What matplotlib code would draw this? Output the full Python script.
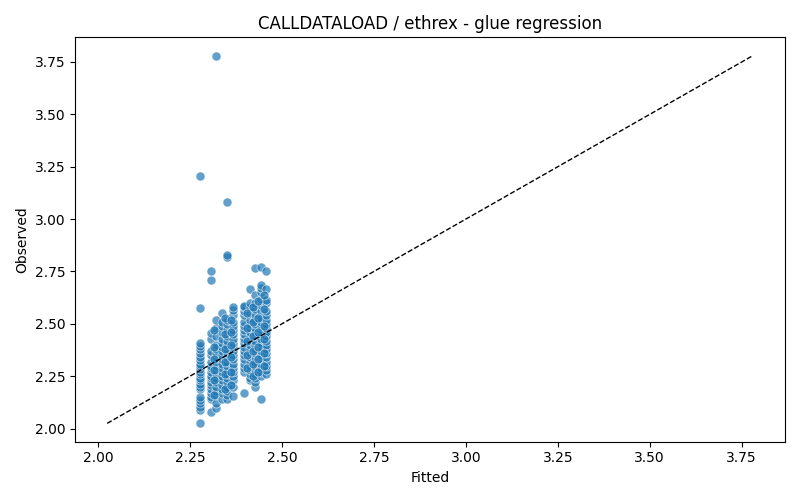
import matplotlib
matplotlib.use("Agg")
import matplotlib.pyplot as plt
import numpy as np

# fitted value levels (the model only produces a handful of distinct predictions)
fitted_levels = [2.278, 2.308, 2.321, 2.338, 2.351, 2.368, 2.398, 2.414, 2.428, 2.444, 2.457,
                 2.315, 2.345, 2.361, 2.406, 2.421, 2.436, 2.451]

# observed values at each fitted level
obs_2278 = [2.025, 2.09, 2.105, 2.12, 2.135, 2.15, 2.19, 2.20, 2.215, 2.23, 2.24, 2.26,
            2.27, 2.285, 2.30, 2.31, 2.325, 2.34, 2.36, 2.38, 2.395, 2.41, 2.575, 3.205]
obs_2308 = [2.08, 2.14, 2.15, 2.17, 2.19, 2.21, 2.22, 2.24, 2.25, 2.27, 2.29, 2.30,
            2.32, 2.35, 2.37, 2.43, 2.455, 2.71, 2.75]
obs_2321 = [2.10, 2.12, 2.16, 2.18, 2.20, 2.22, 2.24, 2.26, 2.28, 2.30, 2.32, 2.34,
            2.36, 2.38, 2.40, 2.44, 2.48, 2.52, 3.78]
obs_2338 = [2.14, 2.17, 2.19, 2.21, 2.23, 2.25, 2.27, 2.29, 2.31, 2.33, 2.35, 2.37,
            2.39, 2.41, 2.43, 2.46, 2.49, 2.51, 2.55]
obs_2351 = [2.14, 2.16, 2.18, 2.20, 2.22, 2.24, 2.26, 2.28, 2.30, 2.32, 2.34, 2.36,
            2.38, 2.40, 2.42, 2.44, 2.47, 2.50, 2.52, 2.82, 2.83, 3.08]
obs_2368 = [2.155, 2.20, 2.23, 2.25, 2.27, 2.29, 2.31, 2.33, 2.35, 2.37, 2.39, 2.41,
            2.43, 2.45, 2.47, 2.49, 2.51, 2.54, 2.565, 2.58]
obs_2398 = [2.17, 2.27, 2.29, 2.31, 2.33, 2.35, 2.37, 2.39, 2.41, 2.43, 2.45, 2.47,
            2.49, 2.51, 2.54, 2.56, 2.58, 2.585]
obs_2414 = [2.23, 2.24, 2.26, 2.28, 2.30, 2.32, 2.34, 2.36, 2.38, 2.40, 2.42, 2.44,
            2.46, 2.48, 2.50, 2.52, 2.55, 2.58, 2.60, 2.665]
obs_2428 = [2.20, 2.22, 2.24, 2.26, 2.28, 2.30, 2.32, 2.34, 2.36, 2.38, 2.40, 2.42,
            2.44, 2.46, 2.48, 2.50, 2.52, 2.54, 2.57, 2.60, 2.64, 2.765]
obs_2444 = [2.14, 2.25, 2.27, 2.29, 2.31, 2.33, 2.35, 2.37, 2.39, 2.41, 2.43, 2.45,
            2.47, 2.49, 2.51, 2.53, 2.56, 2.59, 2.62, 2.65, 2.67, 2.685, 2.77]
obs_2457 = [2.26, 2.28, 2.30, 2.32, 2.34, 2.36, 2.38, 2.40, 2.42, 2.44, 2.46, 2.48,
            2.50, 2.52, 2.54, 2.56, 2.60, 2.615, 2.665, 2.75]
# sparser in-between levels
obs_2315 = [2.16, 2.23, 2.28, 2.33, 2.39, 2.47]
obs_2345 = [2.19, 2.26, 2.32, 2.38, 2.45, 2.53]
obs_2361 = [2.21, 2.27, 2.34, 2.40, 2.46, 2.52]
obs_2406 = [2.29, 2.35, 2.42, 2.48, 2.55]
obs_2421 = [2.25, 2.31, 2.37, 2.44, 2.51, 2.58]
obs_2436 = [2.27, 2.33, 2.39, 2.46, 2.53, 2.61]
obs_2451 = [2.30, 2.36, 2.43, 2.49, 2.57, 2.64]

observed_groups = [obs_2278, obs_2308, obs_2321, obs_2338, obs_2351, obs_2368,
                   obs_2398, obs_2414, obs_2428, obs_2444, obs_2457,
                   obs_2315, obs_2345, obs_2361, obs_2406, obs_2421, obs_2436, obs_2451]


def main():
    fitted = np.concatenate([[lvl] * len(g) for lvl, g in zip(fitted_levels, observed_groups)])
    observed = np.concatenate(observed_groups)

    fig, ax = plt.subplots(figsize=(8, 5), dpi=100)
    ax.scatter(fitted, observed, s=42, alpha=0.7, color="#1f77b4",
               edgecolor="white", linewidth=0.5)

    # y = x reference line
    lo = min(fitted.min(), observed.min())
    hi = max(fitted.max(), observed.max())
    ax.plot([lo, hi], [lo, hi], "k--", linewidth=1)

    ax.set_xlabel("Fitted")
    ax.set_ylabel("Observed")
    ax.set_title("CALLDATALOAD / ethrex - glue regression")
    fig.tight_layout()
    fig.savefig("out.png")
    plt.close(fig)


if __name__ == "__main__":
    main()
